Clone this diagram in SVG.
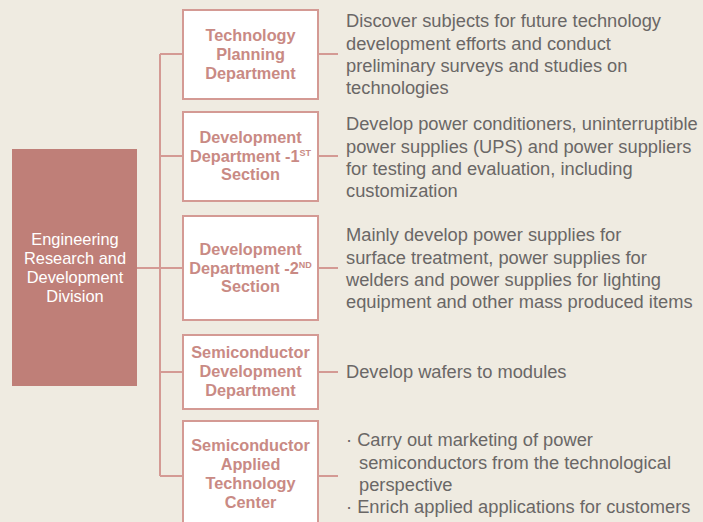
<svg xmlns="http://www.w3.org/2000/svg" width="703" height="522" viewBox="0 0 703 522">
<style>
.bg{fill:#efebe1}
.main{fill:#bf7f78}
.box{fill:#ffffff;stroke:#d49a94;stroke-width:2}
.ln{stroke:#d49a94;stroke-width:2;fill:none}
.mt{font-family:"Liberation Sans",Arial,sans-serif;font-size:16.4px;fill:#ffffff;text-anchor:middle}
.bt{font-family:"Liberation Sans",Arial,sans-serif;font-size:16.3px;font-weight:bold;fill:#c98a84;text-anchor:middle}
.sup{font-size:9px}
.dt{font-family:"Liberation Sans",Arial,sans-serif;font-size:18.3px;fill:#6a6766}
</style>
<rect class="bg" x="0" y="0" width="703" height="522"/>
<g id="connectors">
<line class="ln" x1="137" y1="268" x2="183" y2="268"/>
<line class="ln" x1="160" y1="54" x2="160" y2="476"/>
<line class="ln" x1="160" y1="54" x2="183" y2="54"/>
<line class="ln" x1="160" y1="156" x2="183" y2="156"/>
<line class="ln" x1="160" y1="372" x2="183" y2="372"/>
<line class="ln" x1="160" y1="476" x2="183" y2="476"/>
<line class="ln" x1="318" y1="54" x2="338" y2="54"/>
<line class="ln" x1="318" y1="156" x2="338" y2="156"/>
<line class="ln" x1="318" y1="268" x2="338" y2="268"/>
<line class="ln" x1="318" y1="372" x2="338" y2="372"/>
<line class="ln" x1="318" y1="476" x2="338" y2="476"/>
</g>
<g id="division">
<rect class="main" x="12" y="149" width="125" height="237"/>
<text class="mt" x="75" y="245">Engineering</text>
<text class="mt" x="75" y="264">Research and</text>
<text class="mt" x="75" y="283">Development</text>
<text class="mt" x="75" y="302">Division</text>
</g>
<g id="tech-planning">
<rect class="box" x="183" y="10" width="135" height="89"/>
<text class="bt" x="250.5" y="41">Technology</text>
<text class="bt" x="250.5" y="60">Planning</text>
<text class="bt" x="250.5" y="79">Department</text>
<text class="dt" x="346" y="27">Discover subjects for future technology</text>
<text class="dt" x="346" y="49.5">development efforts and conduct</text>
<text class="dt" x="346" y="72">preliminary surveys and studies on</text>
<text class="dt" x="346" y="94">technologies</text>
</g>
<g id="dev-1st">
<rect class="box" x="183" y="112" width="135" height="89"/>
<text class="bt" x="250.5" y="143">Development</text>
<text class="bt" x="250.5" y="162">Department -1<tspan class="sup" dy="-6">ST</tspan></text>
<text class="bt" x="250.5" y="180">Section</text>
<text class="dt" x="346" y="130">Develop power conditioners, uninterruptible</text>
<text class="dt" x="346" y="152.5">power supplies (UPS) and power suppliers</text>
<text class="dt" x="346" y="175">for testing and evaluation, including</text>
<text class="dt" x="346" y="197">customization</text>
</g>
<g id="dev-2nd">
<rect class="box" x="183" y="216" width="135" height="104"/>
<text class="bt" x="250.5" y="255">Development</text>
<text class="bt" x="250.5" y="274">Department -2<tspan class="sup" dy="-6">ND</tspan></text>
<text class="bt" x="250.5" y="292">Section</text>
<text class="dt" x="346" y="241">Mainly develop power supplies for</text>
<text class="dt" x="346" y="263.5">surface treatment, power supplies for</text>
<text class="dt" x="346" y="286">welders and power supplies for lighting</text>
<text class="dt" x="346" y="308">equipment and other mass produced items</text>
</g>
<g id="semi-dev">
<rect class="box" x="183" y="335" width="135" height="74"/>
<text class="bt" x="250.5" y="358">Semiconductor</text>
<text class="bt" x="250.5" y="377">Development</text>
<text class="bt" x="250.5" y="396">Department</text>
<text class="dt" x="346" y="378">Develop wafers to modules</text>
</g>
<g id="semi-applied">
<rect class="box" x="183" y="421" width="135" height="110"/>
<text class="bt" x="250.5" y="451">Semiconductor</text>
<text class="bt" x="250.5" y="470">Applied</text>
<text class="bt" x="250.5" y="489">Technology</text>
<text class="bt" x="250.5" y="508">Center</text>
<text class="dt" x="346" y="446">· Carry out marketing of power</text>
<text class="dt" x="359" y="468.5">semiconductors from the technological</text>
<text class="dt" x="359" y="491">perspective</text>
<text class="dt" x="346" y="513">· Enrich applied applications for customers</text>
</g>
</svg>
